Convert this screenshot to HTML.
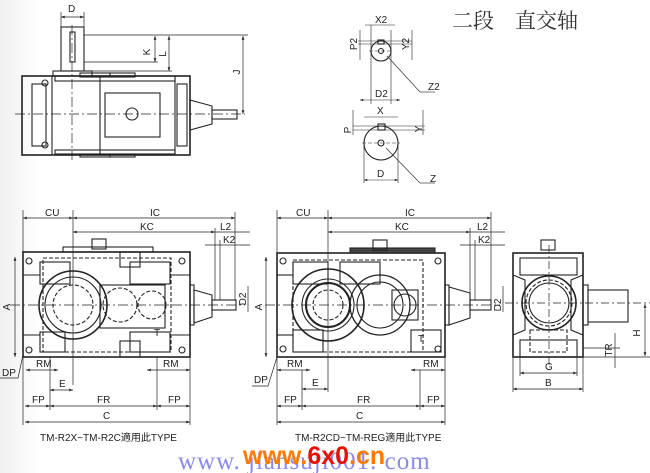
<!DOCTYPE html>
<html><head><meta charset="utf-8"><style>
html,body{margin:0;padding:0;background:#fff;width:650px;height:473px;overflow:hidden}
svg{display:block}
text{font-family:"Liberation Sans","Noto Sans CJK SC",sans-serif;font-size:10px;fill:#222}
</style></head><body>
<svg width="650" height="473" viewBox="0 0 650 473" xmlns="http://www.w3.org/2000/svg">
<defs>
<marker id="a" viewBox="0 0 8 6" refX="8" refY="3" markerWidth="6" markerHeight="4" orient="auto-start-reverse"><path d="M0,0L8,3L0,6z" fill="#222"/></marker>
<linearGradient id="g" x1="0" x2="1"><stop offset="0" stop-color="#f0f0f0"/><stop offset="1" stop-color="#fff"/></linearGradient>
</defs>
<rect x="0" y="0" width="650" height="473" fill="#fff"/>
<rect x="0" y="0" width="40" height="473" fill="url(#g)"/>
<g stroke="#222" fill="none" stroke-width="1.1">
<!-- TOP VIEW -->
<rect x="22" y="76" width="168" height="79" stroke-width="1.6"/>
<line x1="52" y1="76" x2="52" y2="155"/>
<line x1="175" y1="76" x2="175" y2="155"/>
<line x1="100" y1="76" x2="100" y2="155"/>
<rect x="32" y="84" width="14" height="62"/>
<rect x="105" y="93" width="55" height="44"/>
<circle cx="132" cy="114" r="6"/>
<circle cx="45" cy="83" r="3"/><circle cx="45" cy="145" r="3"/>
<rect x="53" y="71" width="39" height="5"/>
<rect x="61" y="27" width="23" height="44"/>
<rect x="70" y="32" width="5" height="30"/>
<rect x="55" y="76" width="120" height="5"/><rect x="55" y="150" width="120" height="4"/>
<rect x="80" y="73" width="30" height="4"/><rect x="110" y="73" width="25" height="4"/><rect x="80" y="154" width="30" height="3"/><rect x="110" y="154" width="25" height="3"/>
<rect x="177" y="84" width="10" height="62"/>
<path d="M190,100 L212,106 L212,124 L190,130z"/>
<rect x="212" y="110" width="25" height="9"/>
<line x1="15" y1="114" x2="245" y2="114" stroke-dasharray="10,3,2,3" stroke-width=".7"/>
<line x1="72" y1="25" x2="72" y2="160" stroke-dasharray="10,3,2,3" stroke-width=".7"/>
<line x1="84" y1="35" x2="248" y2="35" stroke-width=".7"/>
<line x1="84" y1="62" x2="158" y2="62" stroke-width=".7"/>
<line x1="92" y1="71" x2="172" y2="71" stroke-width=".7"/>
<line x1="61" y1="12" x2="61" y2="27" stroke-width=".7"/><line x1="84" y1="12" x2="84" y2="27" stroke-width=".7"/>
<line x1="61" y1="17" x2="84" y2="17" marker-start="url(#a)" marker-end="url(#a)" stroke-width=".7"/>
<line x1="155" y1="36" x2="155" y2="62" marker-start="url(#a)" marker-end="url(#a)" stroke-width=".7"/>
<line x1="169" y1="36" x2="169" y2="71" marker-start="url(#a)" marker-end="url(#a)" stroke-width=".7"/>
<line x1="243" y1="36" x2="243" y2="114" marker-start="url(#a)" marker-end="url(#a)" stroke-width=".7"/>
<!-- shaft sections -->
<circle cx="381" cy="51" r="10"/><circle cx="381" cy="51" r="2.5"/>
<rect x="378" y="40" width="6" height="4"/>
<line x1="369" y1="51" x2="393" y2="51" stroke-dasharray="4,2" stroke-width=".6"/>
<line x1="371" y1="25" x2="371" y2="104" stroke-width=".6"/><line x1="391" y1="30" x2="391" y2="104" stroke-width=".6"/>
<line x1="360" y1="100" x2="400" y2="100" stroke-width=".6" marker-start="url(#a)" marker-end="url(#a)"/>
<line x1="365" y1="25" x2="395" y2="25" stroke-width=".6"/>
<line x1="358" y1="41" x2="412" y2="41" stroke-width=".6"/><line x1="358" y1="44" x2="412" y2="44" stroke-width=".6"/>
<line x1="360" y1="30" x2="360" y2="60" stroke-width=".6"/><line x1="412" y1="30" x2="412" y2="60" stroke-width=".6"/>
<line x1="387" y1="56" x2="420" y2="92" stroke-width=".6"/><line x1="420" y1="92" x2="435" y2="92" stroke-width=".6"/>
<circle cx="381" cy="143" r="17"/><circle cx="381" cy="143" r="3"/>
<rect x="378" y="124" width="7" height="6"/>
<line x1="362" y1="143" x2="400" y2="143" stroke-dasharray="4,2" stroke-width=".6"/>
<line x1="364" y1="143" x2="364" y2="183" stroke-width=".6"/><line x1="398" y1="143" x2="398" y2="183" stroke-width=".6"/>
<line x1="364" y1="180" x2="398" y2="180" stroke-width=".6" marker-start="url(#a)" marker-end="url(#a)"/>
<line x1="364" y1="117" x2="398" y2="117" stroke-width=".6"/>
<line x1="353" y1="126" x2="425" y2="126" stroke-width=".6"/><line x1="353" y1="130" x2="425" y2="130" stroke-width=".6"/>
<line x1="353" y1="110" x2="353" y2="135" stroke-width=".6"/><line x1="423" y1="110" x2="423" y2="135" stroke-width=".6"/>
<line x1="386" y1="148" x2="420" y2="183" stroke-width=".6"/><line x1="420" y1="183" x2="435" y2="183" stroke-width=".6"/>

<!-- LEFT FRONT VIEW -->
<rect x="23" y="252" width="167" height="105" stroke-width="1.6"/>
<rect x="63" y="247" width="90" height="5"/>
<rect x="92" y="239" width="14" height="10"/>
<rect x="43" y="258" width="128" height="94" stroke-dasharray="4,2"/>
<rect x="40" y="262" width="30" height="22"/><rect x="130" y="262" width="40" height="22"/>
<rect x="40" y="332" width="25" height="20"/><rect x="130" y="332" width="40" height="20"/>
<line x1="23" y1="275" x2="40" y2="275"/><line x1="23" y1="335" x2="40" y2="335"/>
<line x1="172" y1="275" x2="190" y2="275"/><line x1="172" y1="335" x2="190" y2="335"/>
<circle cx="73" cy="305" r="34" stroke-width="1.6"/><circle cx="73" cy="305" r="28"/><circle cx="73" cy="305" r="20" stroke-dasharray="4,2"/>
<rect x="100" y="285" width="65" height="43"/>
<circle cx="120" cy="305" r="17" stroke-dasharray="4,2"/><circle cx="152" cy="305" r="14" stroke-dasharray="4,2"/>
<circle cx="29" cy="261" r="3"/><circle cx="182" cy="261" r="3"/><circle cx="29" cy="350" r="3"/><circle cx="182" cy="350" r="3"/>
<rect x="120" y="252" width="20" height="15"/><rect x="120" y="341" width="20" height="16"/>
<rect x="190" y="285" width="4" height="40"/>
<path d="M194,290 L212,295 L212,317 L194,323z"/>
<rect x="212" y="300" width="24" height="10"/>
<line x1="10" y1="305" x2="245" y2="305" stroke-dasharray="10,3,2,3" stroke-width=".7"/>
<line x1="73" y1="210" x2="73" y2="385" stroke-width=".7"/>
<line x1="23" y1="210" x2="23" y2="425" stroke-width=".7"/><line x1="190" y1="357" x2="190" y2="425" stroke-width=".7"/>
<line x1="235" y1="212" x2="235" y2="300" stroke-width=".7"/><line x1="215" y1="228" x2="215" y2="300" stroke-width=".7"/><line x1="220" y1="240" x2="220" y2="300" stroke-width=".7"/>
<line x1="23" y1="218" x2="73" y2="218" stroke-width=".7" marker-start="url(#a)" marker-end="url(#a)"/>
<line x1="73" y1="218" x2="235" y2="218" stroke-width=".7" marker-start="url(#a)" marker-end="url(#a)"/>
<line x1="73" y1="232" x2="215" y2="232" stroke-width=".7" marker-start="url(#a)" marker-end="url(#a)"/>
<line x1="215" y1="232" x2="250" y2="232" stroke-width=".7"/>
<line x1="205" y1="245" x2="250" y2="245" stroke-width=".7"/>
<line x1="15" y1="257" x2="15" y2="357" stroke-width=".7" marker-start="url(#a)" marker-end="url(#a)"/>
<line x1="248" y1="286" x2="248" y2="312" stroke-width=".7"/>
<line x1="26" y1="370" x2="58" y2="370" stroke-width=".7" marker-start="url(#a)" marker-end="url(#a)"/>
<line x1="147" y1="370" x2="190" y2="370" stroke-width=".7" marker-start="url(#a)" marker-end="url(#a)"/>
<line x1="50" y1="390" x2="73" y2="390" stroke-width=".7" marker-start="url(#a)" marker-end="url(#a)"/>
<line x1="50" y1="357" x2="50" y2="410" stroke-width=".7"/><line x1="157" y1="357" x2="157" y2="410" stroke-width=".7"/>
<line x1="25" y1="406" x2="50" y2="406" stroke-width=".7" marker-start="url(#a)" marker-end="url(#a)"/>
<line x1="50" y1="406" x2="157" y2="406" stroke-width=".7" marker-start="url(#a)" marker-end="url(#a)"/>
<line x1="157" y1="406" x2="190" y2="406" stroke-width=".7" marker-start="url(#a)" marker-end="url(#a)"/>
<line x1="25" y1="422" x2="190" y2="422" stroke-width=".7" marker-start="url(#a)" marker-end="url(#a)"/>
<path d="M0,378 L18,378 L23,355" stroke-width=".7"/>

<!-- MIDDLE FRONT VIEW -->
<rect x="277" y="253" width="168" height="104" stroke-width="1.6"/>
<rect x="350" y="248" width="85" height="5" fill="#444"/>
<rect x="373" y="240" width="14" height="10"/>
<rect x="293" y="260" width="130" height="92" stroke-dasharray="4,2"/>
<rect x="293" y="262" width="35" height="22"/><rect x="340" y="262" width="40" height="22"/>
<rect x="293" y="330" width="30" height="22"/><rect x="411" y="330" width="30" height="22"/>
<line x1="277" y1="275" x2="293" y2="275"/><line x1="277" y1="335" x2="293" y2="335"/>
<circle cx="328" cy="305" r="36" stroke-width="1.6"/><circle cx="328" cy="305" r="26"/><circle cx="328" cy="305" r="22" stroke-width="2"/><circle cx="328" cy="305" r="15" stroke-dasharray="4,2"/>
<circle cx="380" cy="305" r="30" stroke-width="1.3"/><circle cx="380" cy="305" r="23"/>
<rect x="392" y="290" width="26" height="30"/><circle cx="405" cy="305" r="11"/>
<circle cx="283" cy="261" r="3"/><circle cx="438" cy="261" r="3"/><circle cx="283" cy="349" r="3"/><circle cx="438" cy="349" r="3"/>
<rect x="445" y="285" width="4" height="40"/>
<path d="M449,287 L470,293 L470,318 L449,325z"/>
<rect x="470" y="300" width="21" height="10"/>
<line x1="265" y1="305" x2="500" y2="305" stroke-dasharray="10,3,2,3" stroke-width=".7"/>
<line x1="328" y1="210" x2="328" y2="392" stroke-width=".7"/>
<line x1="277" y1="210" x2="277" y2="425" stroke-width=".7"/><line x1="445" y1="357" x2="445" y2="425" stroke-width=".7"/>
<line x1="491" y1="212" x2="491" y2="300" stroke-width=".7"/><line x1="470" y1="228" x2="470" y2="300" stroke-width=".7"/><line x1="475" y1="240" x2="475" y2="300" stroke-width=".7"/>
<line x1="277" y1="218" x2="328" y2="218" stroke-width=".7" marker-start="url(#a)" marker-end="url(#a)"/>
<line x1="328" y1="218" x2="491" y2="218" stroke-width=".7" marker-start="url(#a)" marker-end="url(#a)"/>
<line x1="328" y1="232" x2="470" y2="232" stroke-width=".7" marker-start="url(#a)" marker-end="url(#a)"/>
<line x1="470" y1="232" x2="505" y2="232" stroke-width=".7"/>
<line x1="460" y1="245" x2="505" y2="245" stroke-width=".7"/>
<line x1="266" y1="257" x2="266" y2="357" stroke-width=".7" marker-start="url(#a)" marker-end="url(#a)"/>
<line x1="503" y1="286" x2="503" y2="312" stroke-width=".7"/>
<line x1="277" y1="370" x2="310" y2="370" stroke-width=".7" marker-start="url(#a)" marker-end="url(#a)"/>
<line x1="411" y1="370" x2="445" y2="370" stroke-width=".7" marker-start="url(#a)" marker-end="url(#a)"/>
<line x1="302" y1="389" x2="328" y2="389" stroke-width=".7" marker-start="url(#a)" marker-end="url(#a)"/>
<line x1="302" y1="370" x2="302" y2="410" stroke-width=".7"/><line x1="420" y1="370" x2="420" y2="410" stroke-width=".7"/>
<line x1="277" y1="406" x2="302" y2="406" stroke-width=".7" marker-start="url(#a)" marker-end="url(#a)"/>
<line x1="302" y1="406" x2="420" y2="406" stroke-width=".7" marker-start="url(#a)" marker-end="url(#a)"/>
<line x1="420" y1="406" x2="445" y2="406" stroke-width=".7" marker-start="url(#a)" marker-end="url(#a)"/>
<line x1="277" y1="422" x2="445" y2="422" stroke-width=".7" marker-start="url(#a)" marker-end="url(#a)"/>
<path d="M252,386 L268,386 L277,357" stroke-width=".7"/>

<!-- SIDE VIEW -->
<rect x="513" y="253" width="70" height="104" stroke-width="1.6"/>
<rect x="541" y="240" width="14" height="10"/>
<rect x="520" y="258" width="57" height="17"/>
<rect x="520" y="340" width="57" height="17"/>
<rect x="530" y="330" width="37" height="22" stroke-dasharray="4,2"/>
<circle cx="549" cy="303" r="27" stroke-width="1.6"/><circle cx="549" cy="303" r="20"/><circle cx="549" cy="303" r="23" stroke-dasharray="4,2"/>
<path d="M513,275 L525,280 L525,330 L513,335" /><path d="M583,275 L571,280 L571,330 L583,335"/>
<rect x="583" y="285" width="5" height="40"/>
<rect x="588" y="290" width="40" height="32"/>
<line x1="549" y1="245" x2="549" y2="365" stroke-dasharray="8,3,2,3" stroke-width=".7"/>
<line x1="505" y1="303" x2="650" y2="303" stroke-dasharray="8,3,2,3" stroke-width=".7"/>
<line x1="513" y1="357" x2="513" y2="392" stroke-width=".7"/><line x1="583" y1="357" x2="583" y2="392" stroke-width=".7"/>
<line x1="520" y1="357" x2="520" y2="376" stroke-width=".7"/><line x1="577" y1="357" x2="577" y2="376" stroke-width=".7"/>
<line x1="520" y1="373" x2="577" y2="373" stroke-width=".7" marker-start="url(#a)" marker-end="url(#a)"/>
<line x1="513" y1="389" x2="583" y2="389" stroke-width=".7" marker-start="url(#a)" marker-end="url(#a)"/>
<line x1="583" y1="357" x2="650" y2="357" stroke-width=".7"/>
<line x1="645" y1="304" x2="645" y2="356" stroke-width=".7" marker-start="url(#a)" marker-end="url(#a)"/>
<line x1="583" y1="348" x2="620" y2="348" stroke-width=".7"/>
<line x1="615" y1="333" x2="615" y2="368" stroke-width=".7"/>
</g>
<g fill="#222">
<text x="68" y="12">D</text>
<text x="150" y="52" transform="rotate(-90 150 52)" text-anchor="middle">K</text>
<text x="166" y="54" transform="rotate(-90 166 54)" text-anchor="middle">L</text>
<text x="240" y="72" transform="rotate(-90 240 72)" text-anchor="middle">J</text>
<text x="375" y="23" font-size="9">X2</text>
<text x="357" y="44" font-size="8" transform="rotate(-90 357 44)" text-anchor="middle">P2</text>
<text x="409" y="44" font-size="8" transform="rotate(-90 409 44)" text-anchor="middle">Y2</text>
<text x="375" y="97">D2</text>
<text x="428" y="90">Z2</text>
<text x="377" y="114">X</text>
<text x="351" y="130" font-size="8" transform="rotate(-90 351 130)" text-anchor="middle">P</text>
<text x="422" y="129" font-size="8" transform="rotate(-90 422 129)" text-anchor="middle">Y</text>
<text x="377" y="177">D</text>
<text x="430" y="182">Z</text>
<text x="45" y="216">CU</text><text x="150" y="216">IC</text><text x="140" y="230">KC</text>
<text x="220" y="230">L2</text><text x="223" y="243">K2</text>
<text x="10" y="307" transform="rotate(-90 10 307)" text-anchor="middle">A</text>
<text x="246" y="299" font-size="9" transform="rotate(-90 246 299)" text-anchor="middle">D2</text>
<text x="36" y="367">RM</text><text x="163" y="367">RM</text><text x="59" y="387">E</text>
<text x="32" y="403">FP</text><text x="97" y="403">FR</text><text x="168" y="403">FP</text><text x="103" y="419">C</text>
<text x="154" y="336" font-size="9">T</text>
<text x="2" y="376" font-size="9">DP</text>
<text x="40" y="441">TM-R2X~TM-R2C適用此TYPE</text>
<text x="296" y="216">CU</text><text x="405" y="216">IC</text><text x="395" y="230">KC</text>
<text x="477" y="230">L2</text><text x="478" y="243">K2</text>
<text x="262" y="307" transform="rotate(-90 262 307)" text-anchor="middle">A</text>
<text x="501" y="305" font-size="9" transform="rotate(-90 501 305)" text-anchor="middle">D2</text>
<text x="287" y="367">RM</text><text x="423" y="367">RM</text><text x="312" y="386">E</text>
<text x="284" y="403">FP</text><text x="357" y="403">FR</text><text x="427" y="403">FP</text><text x="356" y="419">C</text>
<text x="418" y="342" font-size="9">T</text>
<text x="254" y="383" font-size="9">DP</text>
<text x="295" y="441">TM-R2CD~TM-REG適用此TYPE</text>
<text x="545" y="370">G</text><text x="545" y="386">B</text>
<text x="640" y="333" transform="rotate(-90 640 333)" text-anchor="middle">H</text>
<text x="612" y="350" font-size="8" transform="rotate(-90 612 350)" text-anchor="middle">TR</text>
<text x="452" y="28" style="font-family:'Noto Serif CJK SC','Noto Sans CJK SC',serif;font-size:21px;fill:#333">二段　直交轴</text>
<text x="178" y="469" style="font-family:'Liberation Serif',serif;font-size:25px;fill:#8a8ae8;letter-spacing:1px">www. jiansuji001. com</text>
<text x="243" y="464" style="font-family:'Liberation Sans',sans-serif;font-size:25px;font-weight:bold;fill:#ff7a00">www.<tspan fill="#e81000">6x0</tspan>.cn</text>
</g>
</svg>
</body></html>
